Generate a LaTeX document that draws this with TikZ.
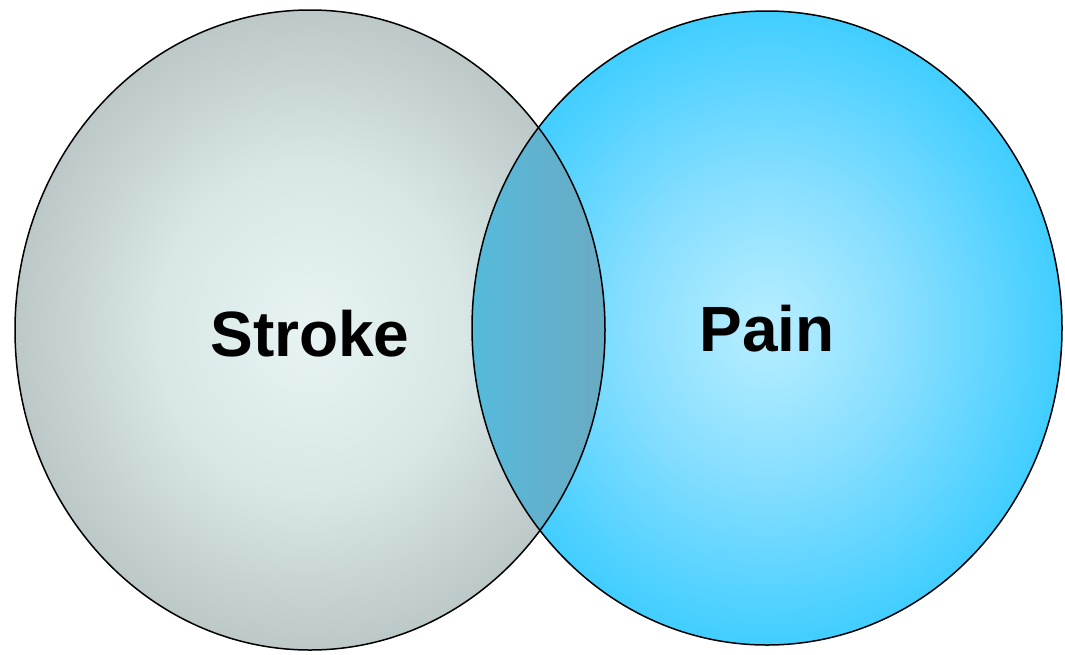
\documentclass[tikz,border=0pt]{standalone}
\usepackage{fontspec}
\setmainfont{Liberation Sans}
\definecolor{strokein}{HTML}{E8F4F4}
\definecolor{strokemid}{HTML}{D8E6E6}
\definecolor{strokeout}{HTML}{B6C0C0}
\definecolor{painin}{HTML}{B8EEFF}
\definecolor{painmid}{HTML}{86DEFF}
\definecolor{painout}{HTML}{36CBFF}
\definecolor{overlapl}{HTML}{56BADB}
\definecolor{overlapr}{HTML}{6AAAC2}
\pgfdeclareradialshading{strokeshade}{\pgfpoint{0bp}{0bp}}{color(0bp)=(strokein); color(13bp)=(strokemid); color(28bp)=(strokeout); color(50bp)=(strokeout)}
\pgfdeclareradialshading{painshade}{\pgfpoint{0bp}{0bp}}{color(0bp)=(painin); color(12bp)=(painmid); color(27bp)=(painout); color(50bp)=(painout)}
\tikzset{vennlabel/.style={font=\fontsize{64pt}{70pt}\selectfont\bfseries, inner sep=0pt}}
\begin{document}
\begin{tikzpicture}[x=1pt,y=-1pt]
\useasboundingbox (0,0) rectangle (1065,654);
\path[shading=strokeshade] (310,330) ellipse (295 and 320);
\path[shading=painshade] (767,328) ellipse (295 and 317);
\begin{scope}
\clip (310,330) ellipse (295 and 320);
\clip (767,328) ellipse (295 and 317);
\path[left color=overlapl, right color=overlapr] (472,0) rectangle (606,654);
\end{scope}
\draw[line width=1.5pt] (310,330) ellipse (295 and 320);
\draw[line width=1.5pt] (767,328) ellipse (295 and 317);
\node[vennlabel] (stroke) at (310,334) {Stroke};
\node[vennlabel] (pain) at (767,329) {Pain};
\end{tikzpicture}
\end{document}
